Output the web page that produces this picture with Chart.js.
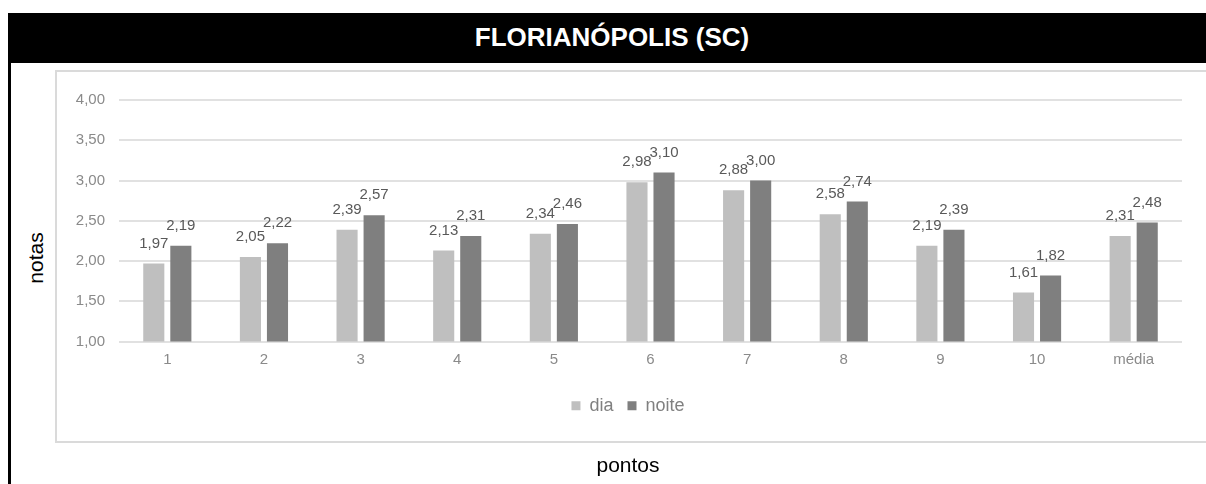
<!DOCTYPE html>
<html lang="pt-BR">
<head>
<meta charset="utf-8">
<title>Florianópolis (SC) – notas por ponto</title>
<script src="https://cdn.jsdelivr.net/npm/chart.js@4/dist/chart.umd.min.js"></script>
<style>
  html, body { margin: 0; padding: 0; background: #fff; }
  body { width: 1206px; height: 484px; overflow: hidden; position: relative;
         font-family: "Liberation Sans", Arial, sans-serif; }
  #head { position: absolute; left: 8px; top: 13px; width: 1208px; height: 50px;
          background: #000; color: #fff; font-weight: bold; font-size: 26px;
          line-height: 48px; text-align: center; }
  #rule { position: absolute; left: 8px; top: 63px; width: 3px; height: 421px; background: #000; }
  #frame { position: absolute; left: 55px; top: 70px; width: 1180px; height: 373px;
           box-sizing: border-box; border: 2px solid #dadada; }
  #ytitle { position: absolute; left: 35px; top: 258px; font-size: 21px; line-height: 1;
            color: #000; white-space: nowrap; transform: translate(-50%, -50%) rotate(-90deg); }
  #c { position: absolute; left: 0; top: 0; }
</style>
</head>
<body>
<div id="head">FLORIANÓPOLIS (SC)</div>
<div id="rule"></div>
<div id="frame"></div>
<div id="ytitle">notas</div>
<canvas id="c" width="1206" height="484"></canvas>
<script>
// Pontos avaliados e médias
const categories = ['1', '2', '3', '4', '5', '6', '7', '8', '9', '10', 'média'];
const notasDia   = [1.97, 2.05, 2.39, 2.13, 2.34, 2.98, 2.88, 2.58, 2.19, 1.61, 2.31];
const notasNoite = [2.19, 2.22, 2.57, 2.31, 2.46, 3.10, 3.00, 2.74, 2.39, 1.82, 2.48];
const seriesNames = ['dia', 'noite'];

// Escala das notas
const yMin = 1;
const yMax = 4;
const yStep = 0.5;

const FONT = '"Liberation Sans", Arial, sans-serif';
const fmt = v => Number(v).toFixed(2).replace('.', ',');

// Rótulos de valor acima de cada barra
const valueLabels = {
  id: 'valueLabels',
  afterDatasetsDraw(chart) {
    const ctx = chart.ctx;
    ctx.save();
    ctx.font = '15px ' + FONT;
    ctx.textAlign = 'center';
    ctx.textBaseline = 'middle';
    ctx.fillStyle = '#595959';
    chart.data.datasets.forEach((ds, di) => {
      const meta = chart.getDatasetMeta(di);
      meta.data.forEach((bar, i) => {
        ctx.fillText(fmt(ds.data[i]), bar.x, bar.y - 20);
      });
    });
    ctx.restore();
  }
};

Chart.defaults.font.family = FONT;

new Chart(document.getElementById('c'), {
  type: 'bar',
  data: {
    labels: categories,
    datasets: [
      { label: seriesNames[0], data: notasDia, backgroundColor: '#bfbfbf', borderWidth: 0,
        categoryPercentage: 0.56, barPercentage: 0.78 },
      { label: seriesNames[1], data: notasNoite, backgroundColor: '#7f7f7f', borderWidth: 0,
        categoryPercentage: 0.56, barPercentage: 0.78 }
    ]
  },
  options: {
    responsive: false,
    devicePixelRatio: 1,
    animation: false,
    layout: { padding: { left: 74, right: 24, top: 100, bottom: 2 } },
    scales: {
      x: {
        grid: { display: false, drawTicks: false },
        border: { display: false },
        ticks: { color: '#8a8a8a', font: { size: 15 }, padding: 9.5, maxRotation: 0 }
      },
      y: {
        min: yMin,
        max: yMax,
        grid: { color: '#e1e1e1', lineWidth: 2, drawTicks: false },
        border: { display: false },
        ticks: { stepSize: yStep, color: '#8a8a8a', font: { size: 15 }, padding: 14,
                 callback: v => fmt(v) },
        afterFit(scale) { scale.width = 45; }
      }
    },
    plugins: {
      legend: {
        position: 'bottom',
        labels: { boxWidth: 9, boxHeight: 9, padding: 14, color: '#808080', font: { size: 18 } },
        title: { display: true, text: '', padding: { top: 3, bottom: 0 }, font: { size: 1 } }
      },
      title: {
        display: true,
        position: 'bottom',
        text: 'pontos',
        color: '#000',
        font: { size: 21, weight: 'normal' },
        padding: { top: 29, bottom: 3 }
      },
      tooltip: { enabled: false }
    }
  },
  plugins: [valueLabels]
});
</script>
</body>
</html>
